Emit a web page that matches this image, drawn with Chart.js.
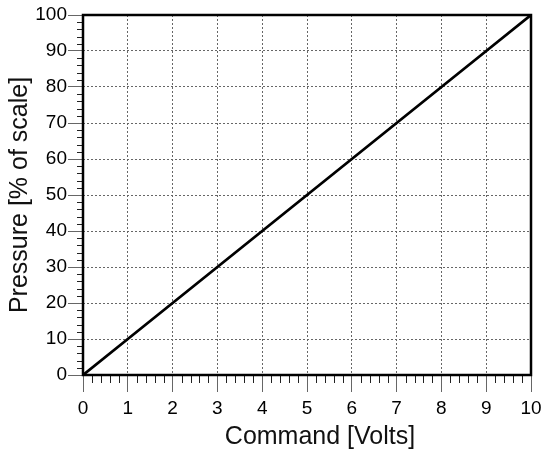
<!DOCTYPE html>
<html>
<head>
<meta charset="utf-8">
<script src="https://cdn.jsdelivr.net/npm/chart.js@4"></script>
<style>
  html, body { margin: 0; padding: 0; background: #fff; }
  #wrap { width: 545px; height: 450px; }
</style>
</head>
<body>
<div id="wrap"><canvas id="c"></canvas></div>
<script>
// Data
const commandVolts = [0, 1, 2, 3, 4, 5, 6, 7, 8, 9, 10];
const pressurePct = [0, 10, 20, 30, 40, 50, 60, 70, 80, 90, 100];
const xTickRange = [0, 10];
const yTickRange = [0, 100];
const xMajorStep = 1, xMinorStep = 0.2;
const yMajorStep = 10, yMinorStep = 2;
const xTitle = 'Command [Volts]';
const yTitle = 'Pressure [% of scale]';

const FONT = "'Liberation Sans', Arial, sans-serif";

const framePlugin = {
  id: 'frame',
  afterDraw(chart) {
    const ctx = chart.ctx;
    const a = chart.chartArea;
    const xs = chart.scales.x, ys = chart.scales.y;
    ctx.save();
    // minor ticks
    ctx.strokeStyle = '#222';
    ctx.lineWidth = 1;
    ctx.beginPath();
    const nx = Math.round((xTickRange[1] - xTickRange[0]) / xMinorStep);
    for (let i = 0; i <= nx; i++) {
      const v = xTickRange[0] + i * xMinorStep;
      if (Math.abs(v / xMajorStep - Math.round(v / xMajorStep)) < 1e-6) continue;
      const px = Math.round(xs.getPixelForValue(v)) + 0.5;
      ctx.moveTo(px, a.bottom);
      ctx.lineTo(px, a.bottom + 8);
    }
    const ny = Math.round((yTickRange[1] - yTickRange[0]) / yMinorStep);
    for (let i = 0; i <= ny; i++) {
      const v = yTickRange[0] + i * yMinorStep;
      if (Math.abs(v / yMajorStep - Math.round(v / yMajorStep)) < 1e-6) continue;
      const py = Math.round(ys.getPixelForValue(v)) + 0.5;
      ctx.moveTo(a.left - 6, py);
      ctx.lineTo(a.left, py);
    }
    ctx.stroke();
    // frame
    ctx.strokeStyle = '#000';
    ctx.lineWidth = 2.5;
    ctx.strokeRect(a.left, a.top, a.right - a.left, a.bottom - a.top);
    // x axis title
    ctx.fillStyle = '#111';
    ctx.font = '25px ' + FONT;
    ctx.textAlign = 'center';
    ctx.textBaseline = 'middle';
    ctx.fillText(xTitle, (a.left + a.right) / 2 + 13, a.bottom + 62);
    ctx.restore();
  }
};

new Chart(document.getElementById('c'), {
  type: 'line',
  data: {
    datasets: [{
      data: commandVolts.map((x, i) => ({ x: x, y: pressurePct[i] })),
      borderColor: '#000',
      borderWidth: 2.8,
      pointRadius: 0,
      tension: 0,
      fill: false
    }]
  },
  options: {
    responsive: true,
    maintainAspectRatio: false,
    animation: false,
    layout: { padding: { top: 15, right: 14, left: 0, bottom: 0 } },
    plugins: { legend: { display: false }, tooltip: { enabled: false } },
    scales: {
      x: {
        type: 'linear',
        min: xTickRange[0], max: xTickRange[1],
        ticks: { stepSize: xMajorStep, color: '#000', font: { family: FONT, size: 19 }, padding: 5, maxRotation: 0 },
        grid: {
          color: ctx => (ctx.tick && (ctx.tick.value === xTickRange[0] || ctx.tick.value === xTickRange[1])) ? 'rgba(0,0,0,0)' : '#666',
          tickColor: '#666',
          tickLength: 17,
          lineWidth: 1
        },
        border: { display: false, dash: [2, 2] },
        title: { display: false, text: xTitle },
        afterFit: s => { s.height = 75; s.paddingRight = 0; s.paddingLeft = 0; }
      },
      y: {
        type: 'linear',
        min: yTickRange[0], max: yTickRange[1],
        ticks: { stepSize: yMajorStep, color: '#000', font: { family: FONT, size: 19 }, padding: 1 },
        grid: {
          color: ctx => (ctx.tick && (ctx.tick.value === yTickRange[0] || ctx.tick.value === yTickRange[1])) ? 'rgba(0,0,0,0)' : '#666',
          tickColor: '#666',
          tickLength: 15,
          lineWidth: 1
        },
        border: { display: false, dash: [2, 2] },
        title: { display: true, text: yTitle, color: '#111', font: { family: FONT, size: 25, lineHeight: 1.2 }, padding: { top: 5, bottom: 0 } },
        afterFit: s => { s.width = 83; s.paddingTop = 0; s.paddingBottom = 0; }
      }
    }
  },
  plugins: [framePlugin]
});
</script>
</body>
</html>
